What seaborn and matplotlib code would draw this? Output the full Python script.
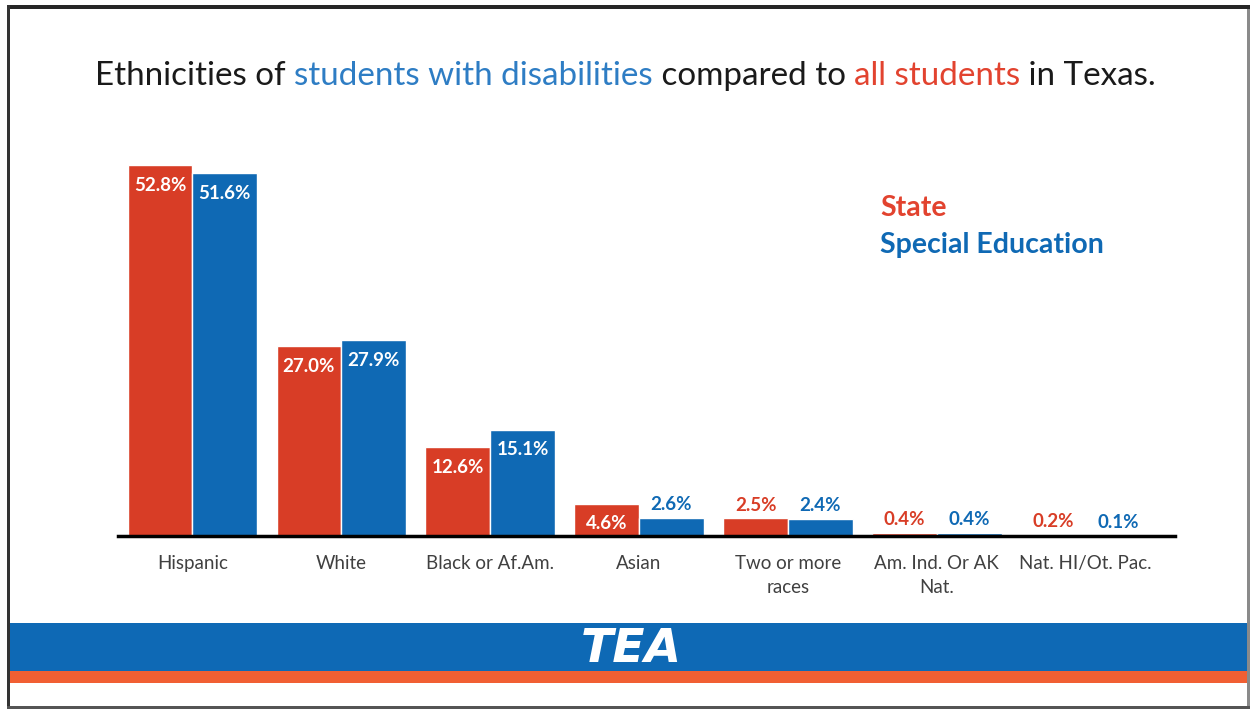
import pandas as pd
import seaborn as sns
import matplotlib.pyplot as plt
from matplotlib.patches import Rectangle

sns.set_theme(style="white")
plt.rcParams['font.family'] = ['Lato', 'DejaVu Sans']

groups = ["Hispanic", "White", "Black or Af.Am.", "Asian", "Two or more\nraces",
          "Am. Ind. Or AK\nNat.", "Nat. HI/Ot. Pac."]
state = [52.8, 27.0, 12.6, 4.6, 2.5, 0.4, 0.2]
sped = [51.6, 27.9, 15.1, 2.6, 2.4, 0.4, 0.1]
series = ["State", "Special Education"]

RED = "#D83D26"
BLUE = "#0F69B4"
TBLUE = "#2E7DC4"
TRED = "#E2432F"

df = pd.DataFrame({"group": groups * 2,
                   "pct": state + sped,
                   "series": [series[0]] * len(groups) + [series[1]] * len(groups)})

W, H = 1251, 711
fig = plt.figure(figsize=(W / 100, H / 100), dpi=100)
fig.patch.set_facecolor("white")

def px_rect(x0, y0, x1, y1, color):
    # rectangle in pixel coords (top-left origin)
    fig.patches.append(Rectangle((x0 / W, 1 - y1 / H), (x1 - x0) / W, (y1 - y0) / H,
                                 transform=fig.transFigure, color=color, lw=0, zorder=0))

# slide frame
px_rect(7, 5, 1250, 9, "#262626")
px_rect(7, 5, 10, 709, "#333333")
px_rect(1247, 9, 1250, 709, "#8a8a8a")
px_rect(7, 706, 1250, 709, "#555555")
# footer bands
px_rect(10, 623, 1247, 671, "#0E69B5")
px_rect(10, 671, 1247, 683, "#F15F33")
fig.text(631 / W, 1 - 649 / H, "TEA", color="white", fontsize=34,
         family="DejaVu Sans", fontweight="bold", style="italic",
         ha="center", va="center")

# bars
ax = fig.add_axes([118 / W, 1 - 536 / H, 1057 / W, (536 - 149.4) / H])
ax.set_facecolor("none")
sns.barplot(data=df, x="group", y="pct", hue="series", order=groups, hue_order=series,
            palette=[RED, BLUE], width=0.87, saturation=1, legend=False, ax=ax)
ax.set_xlim(-0.5, 6.6)
ax.set_ylim(0, 55)
ax.set_yticks([])
ax.set_xlabel("")
ax.set_ylabel("")
for s in ["left", "right", "top"]:
    ax.spines[s].set_visible(False)
ax.spines["bottom"].set_color("black")
ax.spines["bottom"].set_linewidth(2.5)
ax.tick_params(axis="x", length=0, pad=14, labelsize=13.5, labelcolor="#404040")
for t in ax.get_xticklabels():
    t.set_linespacing(1.5)
    t.set_va("top")

for cont, col in zip(ax.containers, [RED, BLUE]):
    for bar, v in zip(cont, cont.datavalues):
        xc = bar.get_x() + bar.get_width() / 2
        if v >= 4:
            ax.annotate(f"{v:.1f}%", (xc, v), xytext=(0, -14.5), textcoords="offset points",
                        ha="center", va="center", color="white", fontsize=13.5,
                        fontweight="bold")
        else:
            ax.annotate(f"{v:.1f}%", (xc, v), xytext=(0, 9.5), textcoords="offset points",
                        ha="center", va="center", color=col, fontsize=13.5,
                        fontweight="bold")

# legend as text
fig.text(880 / W, 1 - 208 / H, "State", color=TRED, fontsize=20.5, fontweight="bold",
         ha="left", va="center")
fig.text(880 / W, 1 - 245 / H, "Special Education", color=BLUE, fontsize=20.5,
         fontweight="bold", ha="left", va="center")

# multicolour title
parts = [("Ethnicities of ", "#1a1a1a"), ("students with disabilities", TBLUE),
         (" compared to ", "#1a1a1a"), ("all students", TRED), (" in Texas.", "#1a1a1a")]
renderer = fig.canvas.get_renderer()
x = 95 / W
for txt, col in parts:
    t = fig.text(x, 1 - 76 / H, txt, color=col, fontsize=23.9, ha="left", va="center")
    bb = t.get_window_extent(renderer=renderer)
    x += bb.width / W

fig.savefig("out.png", dpi=100)
